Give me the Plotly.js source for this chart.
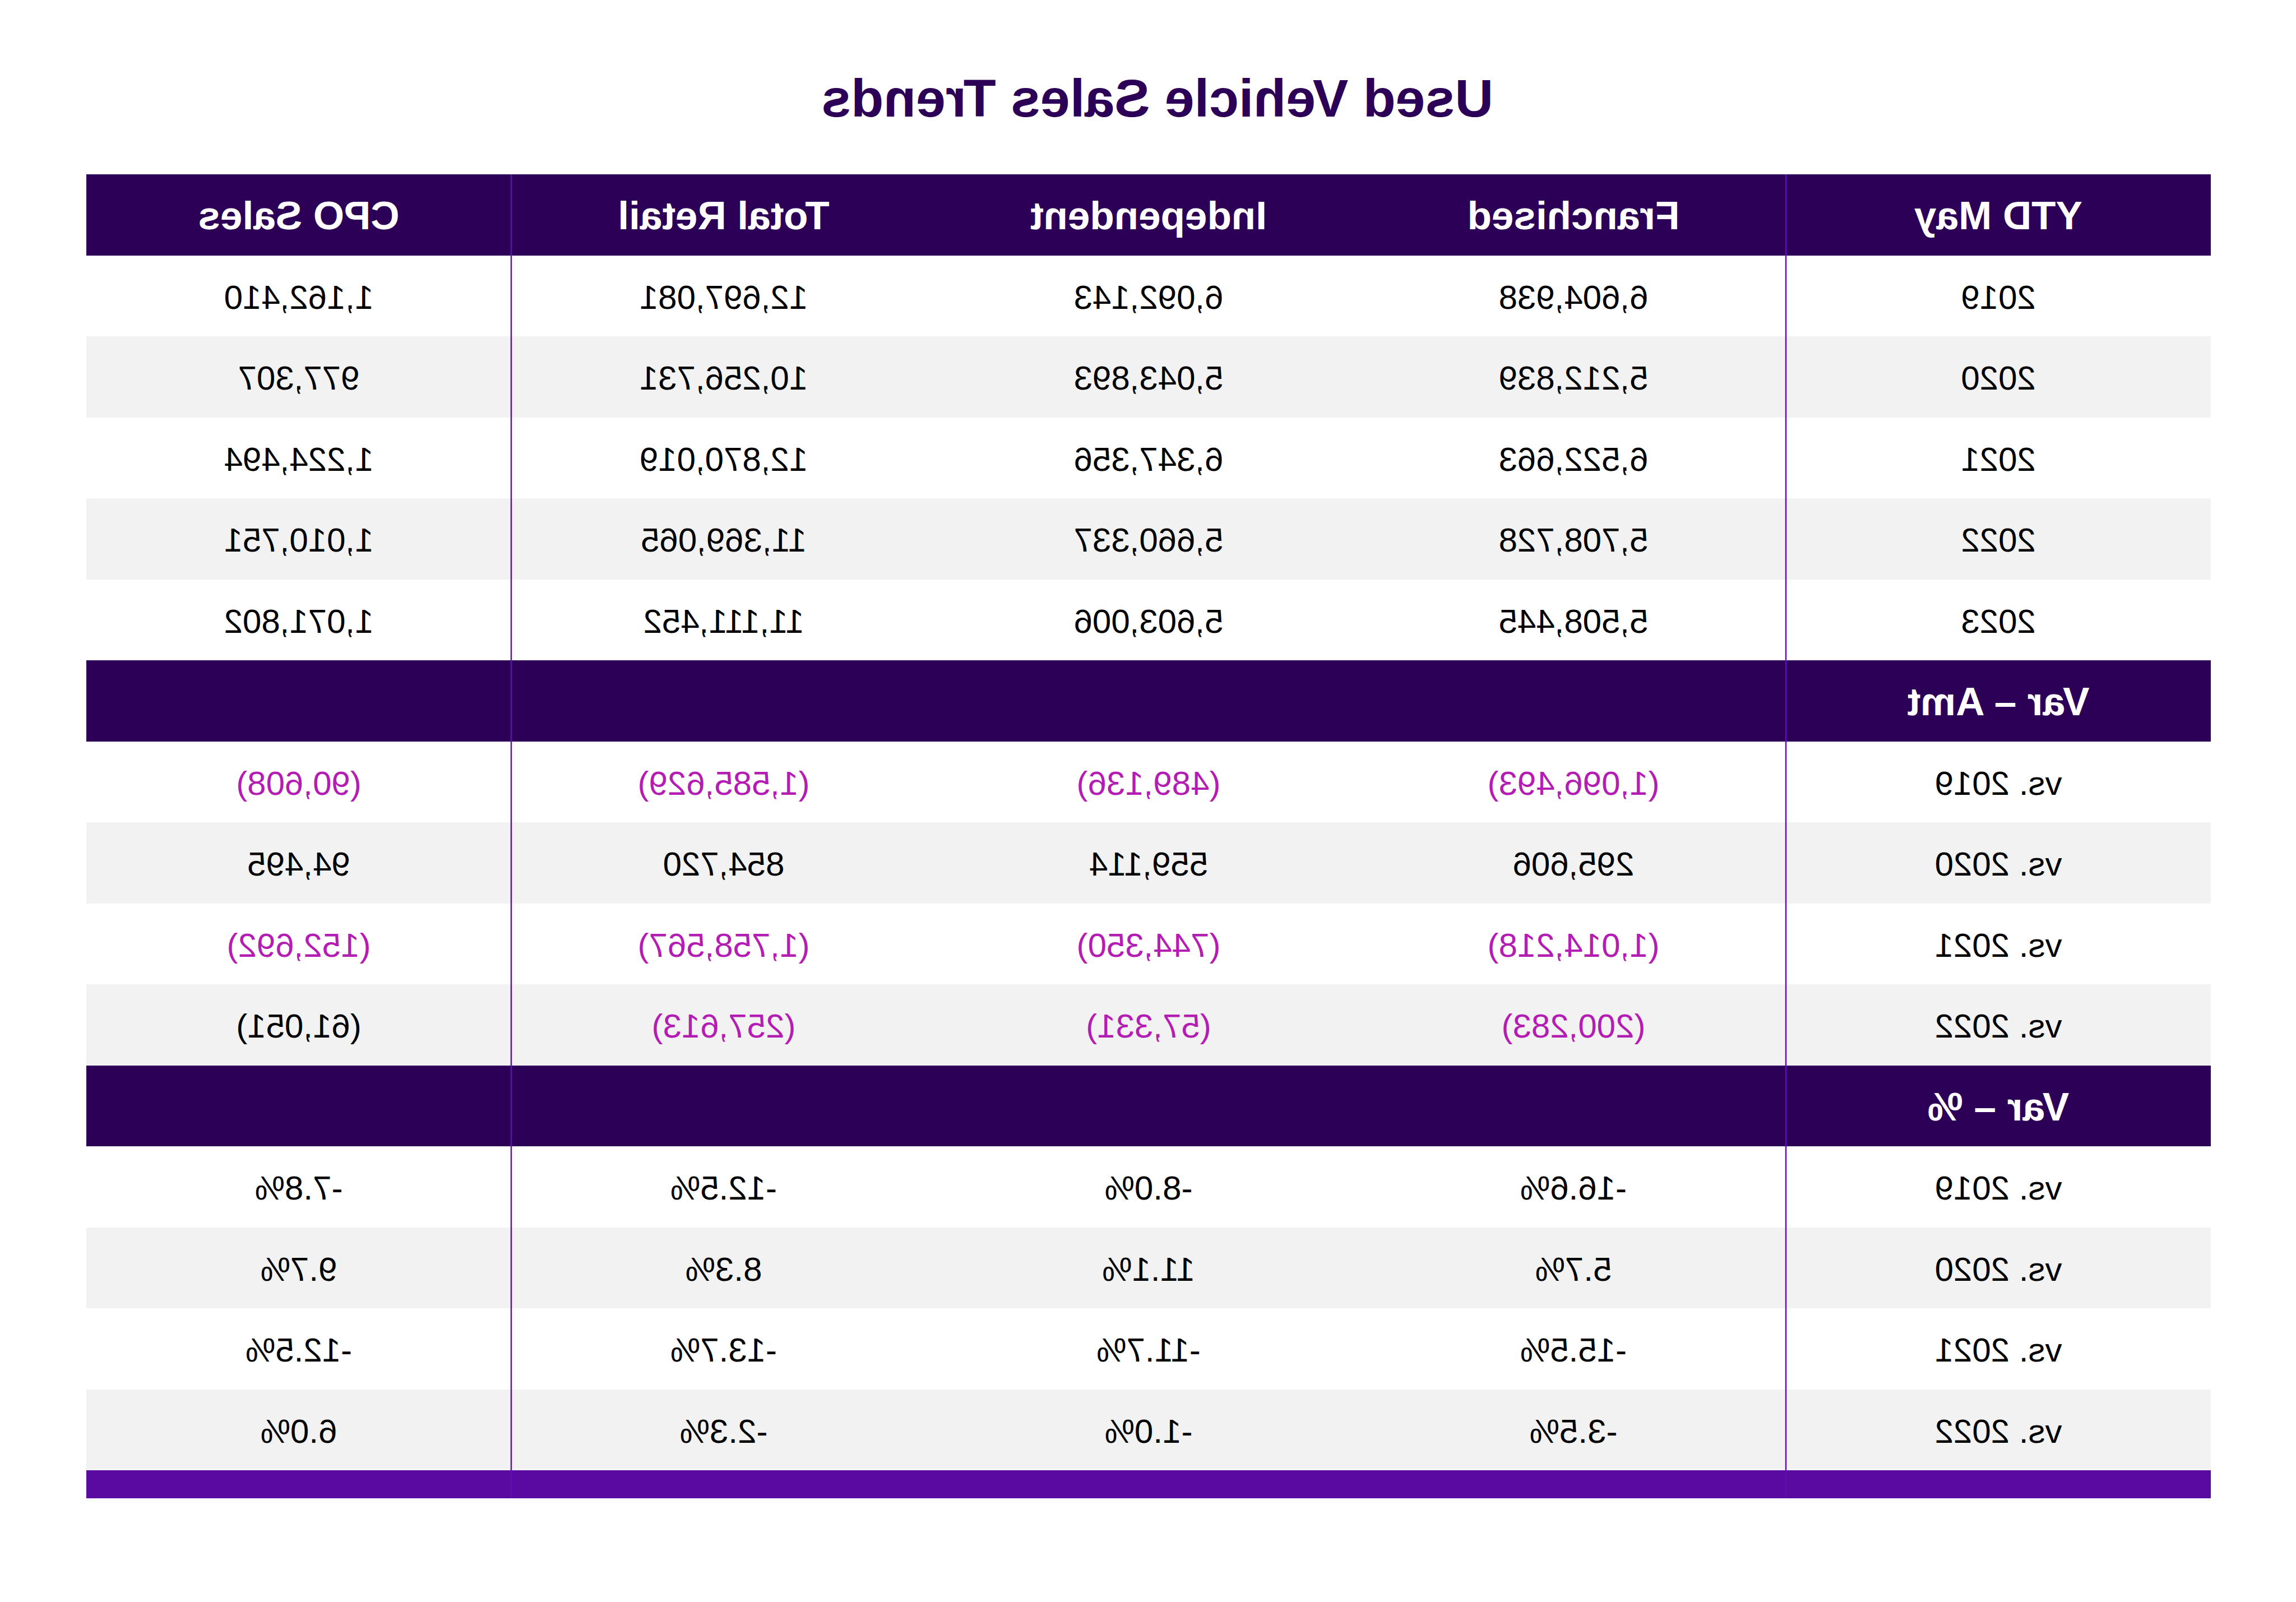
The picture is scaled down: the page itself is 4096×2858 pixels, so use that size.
<!DOCTYPE html>
<html>
<head>
<meta charset="utf-8">
<script src="https://cdn.plot.ly/plotly-3.0.1.min.js"></script>
<style>
  html, body { margin: 0; padding: 0; background: #ffffff; }
  #chart { width: 4096px; height: 2858px; transform: scaleX(-1); transform-origin: 50% 50%; }
</style>
</head>
<body>
<div id="chart"></div>
<script>
// ---------------- data ----------------
const chartTitle = 'Used Vehicle Sales Trends';
const columnHeaders = ['YTD May', 'Franchised', 'Independent', 'Total Retail', 'CPO Sales'];

const years = ['2019', '2020', '2021', '2022', '2023'];
const franchised = ['6,604,938', '5,212,839', '6,522,663', '5,708,728', '5,508,445'];
const independent = ['6,092,143', '5,043,893', '6,347,356', '5,660,337', '5,603,006'];
const totalRetail = ['12,697,081', '10,256,731', '12,870,019', '11,369,065', '11,111,452'];
const cpoSales = ['1,162,410', '977,307', '1,224,494', '1,010,751', '1,071,802'];

const varAmtTitle = 'Var – Amt';
const varLabels = ['vs. 2019', 'vs. 2020', 'vs. 2021', 'vs. 2022'];
const varAmtFranchised = ['(1,096,493)', '295,606', '(1,014,218)', '(200,283)'];
const varAmtIndependent = ['(489,136)', '559,114', '(744,350)', '(57,331)'];
const varAmtTotalRetail = ['(1,585,629)', '854,720', '(1,758,567)', '(257,613)'];
const varAmtCpo = ['(90,608)', '94,495', '(152,692)', '(61,051)'];
// which Var-Amt cells are shown highlighted (1) in the reference
const varAmtHighlighted = [
  [1, 1, 1, 1],
  [0, 0, 0, 0],
  [1, 1, 1, 1],
  [1, 1, 1, 0]
];

const varPctTitle = 'Var – %';
const varPctFranchised = ['-16.6%', '5.7%', '-15.5%', '-3.5%'];
const varPctIndependent = ['-8.0%', '11.1%', '-11.7%', '-1.0%'];
const varPctTotalRetail = ['-12.5%', '8.3%', '-13.7%', '-2.3%'];
const varPctCpo = ['-7.8%', '9.7%', '-12.5%', '6.0%'];

// ---------------- styles ----------------
const C_DARK = '#2D0057';
const C_GREY = '#F2F2F2';
const C_BAR = '#5A0AA0';
const C_LINE = '#5E10B4';
const C_NEG = '#B31DB3';
const FONT = 'Liberation Sans, Arial, sans-serif';
const DATA_SIZE = 60, HEAD_SIZE = 71, TITLE_SIZE = 95;
const ROW_PX = 144.5, BAR_PX = 50;
const TEXT_SHIFT_PX = 8;

// ---------------- build rows ----------------
const rows = [];
rows.push({ kind: 'head', cells: columnHeaders.slice(), colors: Array(5).fill('#FFFFFF') });
years.forEach((y, i) => rows.push({
  kind: 'data', idx: i,
  cells: [y, franchised[i], independent[i], totalRetail[i], cpoSales[i]],
  colors: Array(5).fill('#000000')
}));
rows.push({ kind: 'head', cells: [varAmtTitle, '', '', '', ''], colors: Array(5).fill('#FFFFFF') });
varLabels.forEach((v, i) => rows.push({
  kind: 'data', idx: i,
  cells: [v, varAmtFranchised[i], varAmtIndependent[i], varAmtTotalRetail[i], varAmtCpo[i]],
  colors: ['#000000'].concat(varAmtHighlighted[i].map(h => h ? C_NEG : '#000000'))
}));
rows.push({ kind: 'head', cells: [varPctTitle, '', '', '', ''], colors: Array(5).fill('#FFFFFF') });
varLabels.forEach((v, i) => rows.push({
  kind: 'data', idx: i,
  cells: [v, varPctFranchised[i], varPctIndependent[i], varPctTotalRetail[i], varPctCpo[i]],
  colors: Array(5).fill('#000000')
}));

// heatmap fills
const barUnits = BAR_PX / ROW_PX;
const z = rows.map(r => Array(5).fill(r.kind === 'head' ? 2 : (r.idx % 2 === 0 ? 0 : 1)));
z.push(Array(5).fill(3));
const xEdges = [-0.5, 0.5, 1.5, 2.5, 3.5, 4.5];
const yEdges = [];
for (let i = 0; i <= rows.length; i++) yEdges.push(i);
yEdges.push(rows.length + barUnits);

const fillTrace = {
  type: 'heatmap',
  x: xEdges, y: yEdges, z: z,
  zmin: 0, zmax: 3,
  colorscale: [
    [0, '#FFFFFF'], [0.1667, '#FFFFFF'],
    [0.1667, C_GREY], [0.5, C_GREY],
    [0.5, C_DARK], [0.8333, C_DARK],
    [0.8333, C_BAR], [1, C_BAR]
  ],
  showscale: false, hoverinfo: 'skip', xgap: 0, ygap: 0
};

// texts
const shiftUnits = TEXT_SHIFT_PX / ROW_PX;
const tx = [], ty = [], tt = [], tc = [], ts = [];
rows.forEach((r, ri) => {
  r.cells.forEach((t, ci) => {
    if (!t) return;
    tx.push(ci); ty.push(ri + 0.5 + shiftUnits);
    tt.push(r.kind === 'head' ? '<b>' + t + '</b>' : t);
    tc.push(r.colors[ci]);
    ts.push(r.kind === 'head' ? HEAD_SIZE : DATA_SIZE);
  });
});
const textTrace = {
  type: 'scatter', mode: 'text',
  x: tx, y: ty, text: tt,
  textposition: 'middle center',
  textfont: { family: FONT, size: ts, color: tc },
  hoverinfo: 'skip', cliponaxis: false, showlegend: false
};

const W = 4096, H = 2858;
const mL = 152, mR = 154, mT = 311;
const plotH = rows.length * ROW_PX + BAR_PX;
const mB = H - mT - plotH;

const layout = {
  width: W, height: H,
  margin: { l: mL, r: mR, t: mT, b: mB, pad: 0 },
  paper_bgcolor: '#FFFFFF', plot_bgcolor: '#FFFFFF',
  showlegend: false,
  xaxis: { range: [-0.5, 4.5], visible: false, fixedrange: true },
  yaxis: { range: [rows.length + barUnits, 0], visible: false, fixedrange: true },
  shapes: [0.5, 3.5].map(xv => ({
    type: 'line', xref: 'x', yref: 'paper', x0: xv, x1: xv, y0: 0, y1: 1,
    line: { color: C_LINE, width: 2.5 }, layer: 'above'
  })),
  annotations: [{
    text: '<b>' + chartTitle + '</b>',
    xref: 'paper', yref: 'paper',
    x: (2031 - mL) / (W - mL - mR),
    y: (H - mB - 175) / plotH,
    xanchor: 'center', yanchor: 'middle', showarrow: false,
    font: { family: FONT, size: TITLE_SIZE, color: C_DARK }
  }]
};

Plotly.newPlot('chart', [fillTrace, textTrace], layout, { staticPlot: true, displayModeBar: false });
</script>
</body>
</html>
